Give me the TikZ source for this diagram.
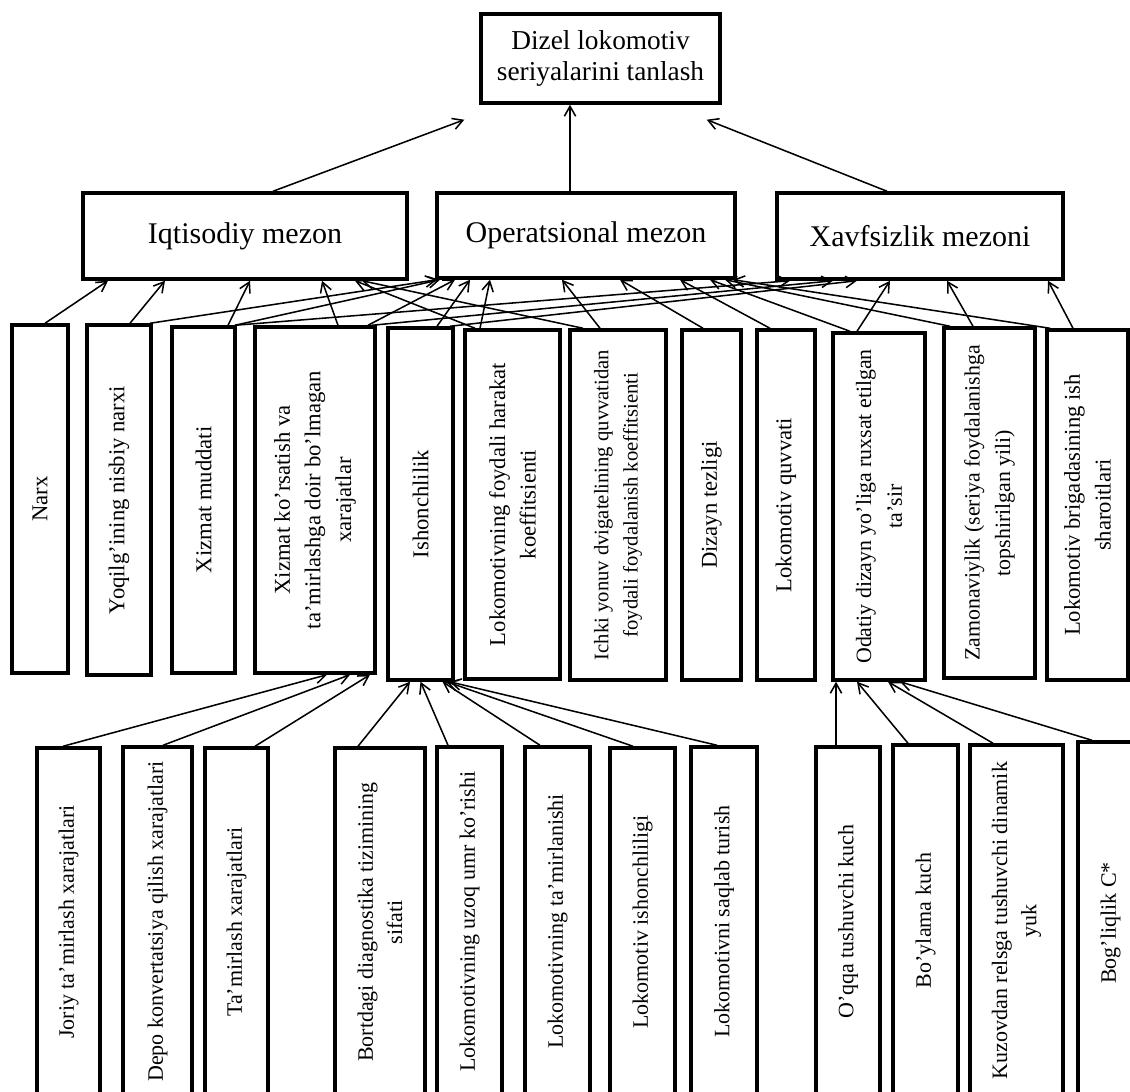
\documentclass[tikz,border=0pt]{standalone}
\usepackage{fontspec}
\setmainfont{Liberation Serif}
\usetikzlibrary{arrows.meta}
\begin{document}
\begin{tikzpicture}[x=0.75pt,y=-0.75pt,
  box/.style={draw, line width=2.6pt, inner sep=0pt},
  sz/.style 2 args={minimum width=#1*0.75pt, minimum height=#2*0.75pt},
  htxt/.style={font=\fontsize{22.5}{27}\selectfont},
  vtxt/.style={rotate=90, align=center, inner sep=0pt, font=\fontsize{17}{23}\selectfont},
  vsm/.style={rotate=90, align=center, inner sep=0pt, font=\fontsize{16.4}{23}\selectfont},
  btxt/.style={rotate=90, align=center, inner sep=0pt, font=\fontsize{16.5}{22}\selectfont},
  arr/.style={-{Straight Barb[length=7.5pt,width=8.5pt]}, line width=1.15pt}]
\fill[white] (0,0) rectangle (1130,1091);
\useasboundingbox (0,0) rectangle (1130,1091);

% top
\node[box, sz={239}{89}, align=center, font=\fontsize{20.5}{23.5}\selectfont] (T) at (600.5,58.5) {Dizel lokomotiv\\seriyalarini tanlash};

% criteria
\node[box, sz={324}{86}, htxt] (I) at (245,236) {Iqtisodiy mezon};
\node[box, sz={298}{85}, htxt] (O) at (586,235.5) {Operatsional mezon};
\node[box, sz={286}{86}, htxt] (X) at (920,236) {Xavfsizlik mezoni};

% middle row
\node[box, sz={56}{348}] (m1) at (40,499) {};
\node[vtxt] (m1t) at (m1) {Narx};
\node[box, sz={64}{350}] (m2) at (119,500) {};
\node[vtxt] (m2t) at (m2) {Yoqilg'ining nisbiy narxi};
\node[box, sz={63}{346}] (m3) at (203.5,500) {};
\node[vtxt] (m3t) at (m3) {Xizmat muddati};
\node[box, sz={120}{346}] (m4) at (315,500) {};
\node[vtxt] (m4t) at (m4) {Xizmat ko'rsatish va\\ta'mirlashga doir bo'lmagan\\xarajatlar};
\node[box, sz={65}{352}] (m5) at (420.5,504) {};
\node[vtxt] (m5t) at (m5) {Ishonchlilik};
\node[box, sz={95}{349}] (m6) at (512.5,504.5) {};
\node[vtxt] (m6t) at (m6) {Lokomotivning foydali harakat\\koeffitsienti};
\node[box, sz={96}{350}] (m7) at (618,505) {};
\node[rotate=90, align=center, inner sep=0pt, font=\fontsize{15.5}{22}\selectfont] (m7t) at (m7) {Ichki yonuv dvigatelining quvvatidan\\foydali foydalanish koeffitsienti};
\node[box, sz={59}{350}] (m8) at (711.5,505) {};
\node[vtxt] (m8t) at (m8) {Dizayn tezligi};
\node[box, sz={58}{350}] (m9) at (786,505) {};
\node[vtxt] (m9t) at (m9) {Lokomotiv quvvati};
\node[box, sz={92}{347}] (m10) at (879,506.5) {};
\node[vsm] (m10t) at (m10) {Odatiy dizayn yo'liga ruxsat etilgan\\ta'sir};
\node[box, sz={91}{350}] (m11) at (989.5,503) {};
\node[vsm] (m11t) at (m11) {Zamonaviylik (seriya foydalanishga\\topshirilgan yili)};
\node[box, sz={81}{350}] (m12) at (1087.5,505) {};
\node[vtxt] (m12t) at (m12) {Lokomotiv brigadasining ish\\sharoitlari};

% bottom row
\node[box, sz={63}{348}] (b1) at (68.5,922) {};
\node[btxt] (b1t) at (b1) {Joriy ta'mirlash xarajatlari};
\node[box, sz={69}{349}] (b2) at (157.5,921.5) {};
\node[btxt] (b2t) at (b2) {Depo konvertatsiya qilish xarajatlari};
\node[box, sz={63}{348}] (b3) at (236.5,922) {};
\node[btxt] (b3t) at (b3) {Ta'mirlash xarajatlari};
\node[box, sz={90}{348}] (b4) at (380,922) {};
\node[btxt] (b4t) at (b4) {Bortdagi diagnostika tizimining\\sifati};
\node[box, sz={65}{349}] (b5) at (469.5,921.5) {};
\node[btxt] (b5t) at (b5) {Lokomotivning uzoq umr ko'rishi};
\node[box, sz={65}{349}] (b6) at (557.5,921.5) {};
\node[btxt] (b6t) at (b6) {Lokomotivning ta'mirlanishi};
\node[box, sz={65}{348}] (b7) at (642.5,922) {};
\node[btxt] (b7t) at (b7) {Lokomotiv ishonchliligi};
\node[box, sz={66}{349}] (b8) at (724,921.5) {};
\node[btxt] (b8t) at (b8) {Lokomotivni saqlab turish};
\node[box, sz={64}{349}] (b9) at (848,921.5) {};
\node[btxt] (b9t) at (b9) {O'qqa tushuvchi kuch};
\node[box, sz={65}{351}] (b10) at (925.5,920.5) {};
\node[btxt] (b10t) at (b10) {Bo'ylama kuch};
\node[box, sz={93}{351}] (b11) at (1016.5,920.5) {};
\node[btxt] (b11t) at (b11) {Kuzovdan relsga tushuvchi dinamik\\yuk};
\node[box, sz={67}{354}] (b12) at (1111.5,919) {};
\node[btxt] (b12t) at ([shift={(-1,4)}]b12.center) {Bog'liqlik C*};

% criteria -> top
\draw[arr] ([shift={(28,0)}]I.north) -- ([shift={(-15,15)}]T.south west);
\draw[arr] ([shift={(-16,0)}]O.north) -- ([shift={(-30.5,0)}]T.south);
\draw[arr] ([shift={(-33,0)}]X.north) -- ([shift={(-15,15)}]T.south east);

% middle -> Iqtisodiy
\draw[arr] ([shift={(5,0)}]m1.north) -- ([shift={(-137,0)}]I.south);
\draw[arr] ([shift={(11,0)}]m2.north) -- ([shift={(-80,0)}]I.south);
\draw[arr] ([shift={(24.5,0)}]m3.north) -- ([shift={(5,0)}]I.south);
\draw[arr] ([shift={(23,0)}]m4.north) -- ([shift={(77,0)}]I.south);
\draw[arr] ([shift={(-37.5,0)}]m6.north) -- ([shift={(110,0)}]I.south);
\draw[arr] ([shift={(-35,0)}]m7.north) -- ([shift={(117,0)}]I.south);

% middle -> Operatsional
\draw[arr] ([shift={(31,0)}]m2.north) -- ([shift={(-149,0)}]O.south);
\draw[arr] ([shift={(31.5,0)}]m3.north) -- ([shift={(-146,0)}]O.south);
\draw[arr] ([shift={(53,0)}]m4.north) -- ([shift={(-131,0)}]O.south);
\draw[arr] ([shift={(16.5,0)}]m5.north) -- ([shift={(-116,0)}]O.south);
\draw[arr] ([shift={(-32.5,0)}]m6.north) -- ([shift={(-96,0)}]O.south);
\draw[arr] ([shift={(-18,0)}]m7.north) -- ([shift={(-24,0)}]O.south);
\draw[arr] ([shift={(-8.5,0)}]m8.north) -- ([shift={(34,0)}]O.south);
\draw[arr] ([shift={(-16,0)}]m9.north) -- ([shift={(94,0)}]O.south);
\draw[arr] ([shift={(-29,0)}]m10.north) -- ([shift={(124,0)}]O.south);
\draw[arr] ([shift={(-39.5,0)}]m11.north) -- ([shift={(139,0)}]O.south);
\draw[arr] ([shift={(-37.5,0)}]m12.north) -- ([shift={(147,0)}]O.south);

% middle -> Xavfsizlik
\draw[arr] ([shift={(31.5,0)}]m3.north) -- ([shift={(-130,0)}]X.south);
\draw[arr] ([shift={(57,0)}]m4.north) -- ([shift={(-87,0)}]X.south);
\draw[arr] ([shift={(29.5,0)}]m5.north) -- ([shift={(-63,0)}]X.south);
\draw[arr] ([shift={(-22,0)}]m10.north) -- ([shift={(-30,0)}]X.south);
\draw[arr] ([shift={(-16.5,0)}]m11.north) -- ([shift={(27,0)}]X.south);
\draw[arr] ([shift={(-14.5,0)}]m12.north) -- ([shift={(128,0)}]X.south);

% bottom -> middle
\draw[arr] ([shift={(-5.5,0)}]b1.north) -- ([shift={(12,0)}]m4.south);
\draw[arr] ([shift={(5.5,0)}]b2.north) -- ([shift={(35,0)}]m4.south);
\draw[arr] ([shift={(18.5,0)}]b3.north) -- ([shift={(55,0)}]m4.south);
\draw[arr] ([shift={(-22,0)}]b4.north) -- ([shift={(-10.5,0)}]m5.south);
\draw[arr] ([shift={(-21.5,0)}]b5.north) -- ([shift={(0,0)}]m5.south);
\draw[arr] ([shift={(-17.5,0)}]b6.north) -- ([shift={(22,0)}]m5.south);
\draw[arr] ([shift={(-9.5,0)}]b7.north) -- ([shift={(26,0)}]m5.south);
\draw[arr] ([shift={(-7,0)}]b8.north) -- ([shift={(29,0)}]m5.south);
\draw[arr] ([shift={(-12,0)}]b9.north) -- ([shift={(-43,0)}]m10.south);
\draw[arr] ([shift={(-17.5,0)}]b10.north) -- ([shift={(-22,0)}]m10.south);
\draw[arr] ([shift={(-23.5,0)}]b11.north) -- ([shift={(9,0)}]m10.south);
\draw[arr] ([shift={(-19.5,0)}]b12.north) -- ([shift={(21,0)}]m10.south);
\end{tikzpicture}
\end{document}
